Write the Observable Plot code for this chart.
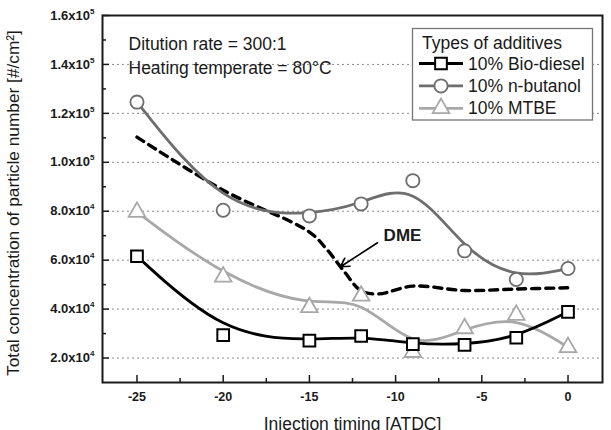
<!DOCTYPE html>
<html>
<head>
<meta charset="utf-8">
<script src="https://cdn.jsdelivr.net/npm/d3@7"></script>
<script src="https://cdn.jsdelivr.net/npm/@observablehq/plot@0.6"></script>
<style>
  html, body { margin: 0; padding: 0; background: #fff; overflow: hidden; }
  #chart { width: 611px; height: 430px; }
</style>
</head>
<body>
<div id="chart"></div>
<script>
// Injection timing (ATDC) at which each fuel blend was measured
const timing = [-25, -20, -15, -12, -9, -6, -3, 0];

// Total particle number concentration [#/cm^2]
const bioDiesel = [61600, 29400, 27100, 29000, 25700, 25400, 28300, 38900];
const nButanol  = [124600, 80400, 78100, 83000, 92500, 63800, 52100, 56600];
const mtbe      = [79700, 53200, 40700, 45400, 22400, 32100, 37600, 24400];

// Reference DME curve (dashed, no markers)
const dmeTiming = [-25, -20, -15, -14, -13, -12, -11, -9, -6, -3, 0];
const dme       = [110300, 88600, 71500, 64500, 55500, 47500, 46200, 49400, 47600, 48200, 48700];

const seriesNames = ["10% Bio-diesel", "10% n-butanol", "10% MTBE"];
const legendTitle = "Types of additives";
const notes = ["Ditution rate = 300:1", "Heating temperate = 80°C"];
const xTitle = "Injection timing [ATDC]";
const yTitle = "Total concentration of particle number [#/cm²]";

// Axis ticks
const xTicks = [-25, -20, -15, -10, -5, 0];
const xMinorTicks = [-22.5, -17.5, -12.5, -7.5, -2.5];
const yTicks = [20000, 40000, 60000, 80000, 100000, 120000, 140000, 160000];
const yGridTicks = [20000, 40000, 60000, 80000, 100000, 120000, 140000];
const yMinorTicks = [30000, 50000, 70000, 90000, 110000, 130000, 150000];

const FONT = '"Liberation Sans", Arial, Helvetica, sans-serif';
const INK = "#1a1a1a";
const colors = ["#000000", "#6e6e6e", "#a8a8a8"];
const symbols = ["square", "circle", "triangle"];
const radii = [6.6, 6.6, 6.2];

const toRows = (xs, ys) => xs.map((t, i) => ({t, v: ys[i]}));
const seriesRows = [bioDiesel, nButanol, mtbe].map(ys => toRows(timing, ys));
const dmeRows = toRows(dmeTiming, dme);

// Exponent notation: 1.6x10^5 (the exponent is raised after rendering)
const fmtY = d => {
  const e = Math.floor(Math.log10(d));
  return (d / 10 ** e).toFixed(1) + "x10^" + e;
};
// Plain hyphen for negative timings
const fmtX = d => String(d);

const lineMarks = [2, 1, 0].map(i =>
  Plot.line(seriesRows[i], {x: "t", y: "v", curve: "basis", stroke: colors[i], strokeWidth: 2.8})
);
const dotMarks = [2, 1, 0].map(i =>
  Plot.dot(seriesRows[i], {x: "t", y: "v", symbol: () => symbols[i], r: radii[i],
    fill: "white", stroke: colors[i], strokeWidth: i === 0 ? 2 : 1.8})
);
const noteMarks = notes.map((note, i) =>
  Plot.text([note], {frameAnchor: "top-left", dx: 26, dy: 28.5 + 24.5 * i, lineAnchor: "middle",
    textAnchor: "start", fontSize: 17.5, fill: INK})
);

const chart = Plot.plot({
  width: 611,
  height: 430,
  marginLeft: 102,
  marginRight: 9,
  marginTop: 15,
  marginBottom: 48,
  style: {fontFamily: FONT, background: "white", color: INK, overflow: "visible"},
  x: {domain: [-27, 2]},
  y: {domain: [10000, 160000]},
  marks: [
    Plot.gridY(yGridTicks, {stroke: "#8c8c8c", strokeOpacity: 1, strokeWidth: 1, strokeDasharray: "2,3"}),
    Plot.line(dmeRows, {x: "t", y: "v", curve: "catmull-rom", stroke: "#000", strokeWidth: 3.4, strokeDasharray: "8,6"}),
    ...lineMarks,
    ...dotMarks,
    Plot.arrow([{x1: -11.05, y1: 67100, x2: -13.2, y2: 57300}], {
      x1: "x1", y1: "y1", x2: "x2", y2: "y2", stroke: "#000", strokeWidth: 1.6, headLength: 9, bend: 0
    }),
    Plot.text(["DME"], {x: () => -9.6, y: () => 69900, fontWeight: "bold", fontSize: 17, fill: INK}),
    ...noteMarks,
    // tick marks point into the frame
    Plot.axisX(xTicks, {tickSize: -7, fill: "none", stroke: INK, strokeWidth: 1.5}),
    Plot.axisX(xMinorTicks, {tickSize: -4, fill: "none", stroke: INK, strokeWidth: 1.5}),
    Plot.axisY(yTicks, {tickSize: -7, fill: "none", stroke: INK, strokeWidth: 1.5}),
    Plot.axisY(yMinorTicks, {tickSize: -4, fill: "none", stroke: INK, strokeWidth: 1.5}),
    Plot.axisX(xTicks, {tickSize: 0, tickPadding: 10, label: null, tickFormat: fmtX, fontWeight: "bold", fontSize: 12.5, fill: INK}),
    Plot.axisY(yTicks, {tickSize: 0, tickPadding: 8, label: null, tickFormat: fmtY, fontWeight: "bold", fontSize: 13, fill: INK}),
    Plot.text([xTitle], {frameAnchor: "bottom", dy: 41.5, lineAnchor: "middle", fontSize: 17.5, fill: INK}),
    Plot.frame({stroke: INK, strokeWidth: 2})
  ]
});

const svg = d3.select(chart);

// Raise the exponent of the y tick labels
svg.selectAll('g[aria-label="y-axis tick label"] text').each(function () {
  const [mant, exp] = this.textContent.split("^");
  if (exp === undefined) return;
  const t = d3.select(this);
  t.text(mant);
  t.append("tspan").attr("font-size", 8).attr("dy", "-0.75em").text(exp);
});

// Vertical y-axis title
svg.append("text")
  .attr("transform", "translate(13,203) rotate(-90)")
  .attr("text-anchor", "middle").attr("dy", "0.35em")
  .attr("font-family", FONT).attr("font-size", 17.3).attr("fill", INK)
  .text(yTitle);

// Legend box in the upper right of the plot area
const lg = svg.append("g").attr("font-family", FONT).attr("font-size", 17.5)
  .attr("fill", INK).attr("text-anchor", "start");
lg.append("rect")
  .attr("x", 412.5).attr("y", 28.5).attr("width", 180).attr("height", 91.5)
  .attr("fill", "white").attr("stroke", "#767676").attr("stroke-width", 1.3);
lg.append("text").attr("x", 422).attr("y", 42.5).attr("dy", "0.35em").text(legendTitle);
const d3Symbols = [d3.symbolSquare, d3.symbolCircle, d3.symbolTriangle];
seriesNames.forEach((name, i) => {
  const cy = 63.5 + 22.4 * i;
  lg.append("line").attr("x1", 419).attr("x2", 463).attr("y1", cy).attr("y2", cy)
    .attr("stroke", colors[i]).attr("stroke-width", 2.8);
  lg.append("path")
    .attr("transform", `translate(441,${cy})`)
    .attr("d", d3.symbol(d3Symbols[i], Math.PI * radii[i] ** 2)())
    .attr("fill", "white").attr("stroke", colors[i]).attr("stroke-width", i === 0 ? 2 : 1.8);
  lg.append("text").attr("x", 468).attr("y", cy).attr("dy", "0.35em").text(name);
});

document.getElementById("chart").appendChild(chart);
</script>
</body>
</html>
